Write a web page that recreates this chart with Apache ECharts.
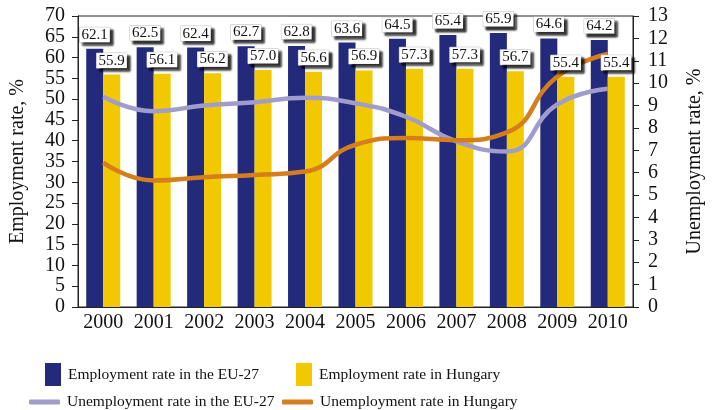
<!DOCTYPE html>
<html>
<head>
<meta charset="utf-8">
<script src="https://cdn.jsdelivr.net/npm/echarts@6/dist/echarts.min.js"></script>
<style>
  html, body { margin: 0; padding: 0; background: #fff; }
  #chart { width: 714px; height: 410px; }
</style>
</head>
<body>
<div id="chart"></div>
<script>
// Employment and unemployment rates, EU-27 vs Hungary, 2000–2010
var years = ['2000', '2001', '2002', '2003', '2004', '2005', '2006', '2007', '2008', '2009', '2010'];
var employmentEU = [62.1, 62.5, 62.4, 62.7, 62.8, 63.6, 64.5, 65.4, 65.9, 64.6, 64.2];
var employmentHU = [55.9, 56.1, 56.2, 57.0, 56.6, 56.9, 57.3, 57.3, 56.7, 55.4, 55.4];
var unemploymentEU = [9.4, 8.75, 9.0, 9.15, 9.35, 9.1, 8.5, 7.4, 6.95, 9.05, 9.75];
var unemploymentHU = [6.45, 5.65, 5.8, 5.9, 6.05, 7.25, 7.55, 7.45, 7.8, 10.3, 11.3];

var FONT = '"Liberation Serif", "DejaVu Serif", serif';
var NAVY = '#232a7c';
var YELLOW = '#f2c900';
var LAVENDER = '#a09ccb';
var ORANGE = '#d67d1e';
var BAR_W = 17;

// Boxed value label with a drop shadow; drawn from a separate top-layer series
// so that the boxes sit above the unemployment curves.
function valueLabel(dx) {
  return {
    show: true,
    position: 'top',
    distance: 6,
    offset: [dx, 0],
    fontFamily: FONT,
    fontSize: 15,
    color: '#111',
    lineHeight: 15,
    backgroundColor: '#fff',
    borderColor: '#bbb',
    borderWidth: 0.5,
    padding: [0, 2],
    shadowColor: 'rgba(0,0,0,0.8)',
    shadowBlur: 2,
    shadowOffsetX: 3,
    shadowOffsetY: 3,
    formatter: function (p) { return p.value.toFixed(1); }
  };
}

function labelSeries(values, dx) {
  return {
    type: 'scatter', data: values, symbol: 'rect', symbolSize: 1,
    itemStyle: { color: 'rgba(0,0,0,0)', opacity: 1 },
    label: valueLabel(dx), silent: true, z: 10
  };
}

function legendBox(name, left, top, icon, w, h) {
  return {
    data: [name],
    left: left,
    top: top,
    icon: icon,
    itemWidth: w,
    itemHeight: h,
    itemGap: 0,
    padding: 0,
    selectedMode: false,
    textStyle: { fontFamily: FONT, fontSize: 15.5, color: '#111', padding: [0, 0, 0, 2] }
  };
}

function valueAxisLabel(margin) {
  return { fontFamily: FONT, fontSize: 20, color: '#111', margin: margin };
}

var chart = echarts.init(document.getElementById('chart'), null, { renderer: 'canvas' });
chart.setOption({
  animation: false,
  backgroundColor: '#fff',
  textStyle: { fontFamily: FONT },
  grid: {
    left: 74, right: 81, top: 16, bottom: 103,
    show: true, borderColor: '#222', borderWidth: 1, backgroundColor: 'transparent'
  },
  legend: [
    legendBox('Employment rate in the EU-27', 45, 363, 'rect', 16, 23),
    legendBox('Employment rate in Hungary', 296, 363, 'rect', 16, 23),
    legendBox('Unemployment rate in the EU-27', 29, 394, 'roundRect', 31, 5),
    legendBox('Unemployment rate in Hungary', 282, 394, 'roundRect', 31, 5)
  ],
  xAxis: {
    type: 'category',
    data: years,
    axisLine: { lineStyle: { color: '#222', width: 1 } },
    axisTick: { show: false },
    axisLabel: { interval: 0, fontFamily: FONT, fontSize: 20, color: '#111', margin: 6 }
  },
  yAxis: [
    {
      type: 'value', min: 0, max: 70, interval: 5,
      name: 'Employment rate, %', nameLocation: 'middle', nameRotate: 90, nameGap: 50,
      nameTextStyle: { fontFamily: FONT, fontSize: 20, color: '#111' },
      axisLine: { show: true, lineStyle: { color: '#222' } },
      axisTick: { show: true, length: 6, lineStyle: { color: '#222' } },
      axisLabel: valueAxisLabel(13),
      splitLine: { show: false }
    },
    {
      type: 'value', min: 0, max: 13, interval: 1, position: 'right',
      name: 'Unemployment rate, %', nameLocation: 'middle', nameRotate: 90, nameGap: 52,
      nameTextStyle: { fontFamily: FONT, fontSize: 20, color: '#111' },
      axisLine: { show: true, lineStyle: { color: '#222' } },
      axisTick: { show: true, length: 6, lineStyle: { color: '#222' } },
      axisLabel: valueAxisLabel(15),
      splitLine: { show: false }
    }
  ],
  series: [
    {
      name: 'Employment rate in the EU-27', type: 'bar', data: employmentEU,
      barWidth: BAR_W, barGap: '0%', itemStyle: { color: NAVY }, z: 2
    },
    {
      name: 'Employment rate in Hungary', type: 'bar', data: employmentHU,
      barWidth: BAR_W, barGap: '0%', itemStyle: { color: YELLOW }, z: 2
    },
    {
      name: 'Unemployment rate in the EU-27', type: 'line', yAxisIndex: 1, data: unemploymentEU,
      smooth: 0.5, showSymbol: false, symbol: 'none',
      lineStyle: { color: LAVENDER, width: 4.5 }, itemStyle: { color: LAVENDER }, z: 3
    },
    {
      name: 'Unemployment rate in Hungary', type: 'line', yAxisIndex: 1, data: unemploymentHU,
      smooth: 0.5, showSymbol: false, symbol: 'none',
      lineStyle: { color: ORANGE, width: 4.5 }, itemStyle: { color: ORANGE }, z: 4
    },
    labelSeries(employmentEU, -BAR_W / 2),
    labelSeries(employmentHU, BAR_W / 2)
  ]
});
</script>
</body>
</html>
